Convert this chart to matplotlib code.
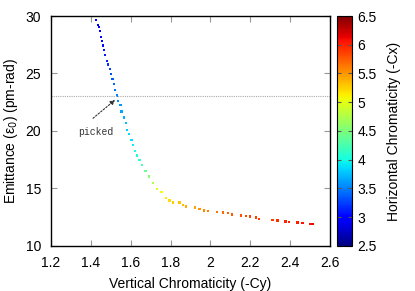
import matplotlib
matplotlib.use("Agg")
import matplotlib.pyplot as plt
from matplotlib.ticker import FuncFormatter
import numpy as np

plt.rcParams['font.family'] = ['Liberation Sans', 'DejaVu Sans']

# Vertical chromaticity (-Cy)
cy = [1.427, 1.435, 1.44, 1.445, 1.452, 1.457, 1.462, 1.465, 1.472, 1.48,
      1.487, 1.495, 1.502, 1.509, 1.515, 1.522, 1.53, 1.535,
      1.548, 1.553, 1.565, 1.575, 1.582, 1.592, 1.603, 1.612, 1.622, 1.632,
      1.645, 1.658, 1.675, 1.692, 1.712, 1.732, 1.754, 1.778,
      1.795, 1.812, 1.845, 1.862, 1.878, 1.923, 1.945, 1.967, 1.987,
      2.033, 2.062, 2.087, 2.107, 2.153, 2.178,
      2.2, 2.228, 2.245, 2.312, 2.337, 2.378, 2.395, 2.437, 2.462, 2.5, 2.512]
# Emittance (pm-rad)
emit = [29.65, 29.24, 29.02, 28.72, 28.15, 27.8, 27.42, 27.04, 26.63, 26.11,
        25.77, 25.39, 24.96, 24.52, 24.09, 23.57, 23.07, 22.58,
        22.26, 21.68, 21.16, 20.67, 20.09, 19.71, 19.22, 18.78, 18.26, 17.85,
        17.48, 17.04, 16.52, 16.03, 15.45, 14.96, 14.67, 14.15,
        13.94, 13.77, 13.77, 13.54, 13.42, 13.33, 13.19, 13.07, 13.02,
        12.93, 12.9, 12.84, 12.72, 12.63, 12.61,
        12.55, 12.46, 12.32, 12.26, 12.2, 12.11, 12.09, 12.03, 11.97, 11.91, 11.88]
# Horizontal chromaticity (-Cx), colour of each point
cx = [2.9, 2.92, 2.95, 2.97, 3.0, 3.02, 3.05, 3.08, 3.1, 3.15,
      3.2, 3.25, 3.3, 3.35, 3.4, 3.45, 3.5, 3.55,
      3.6, 3.65, 3.7, 3.75, 3.8, 3.85, 3.9, 3.95, 4.0, 4.05,
      4.15, 4.25, 4.4, 4.55, 4.75, 4.95, 5.05, 5.15,
      5.2, 5.25, 5.3, 5.35, 5.4, 5.45, 5.5, 5.55, 5.6,
      5.65, 5.7, 5.72, 5.75, 5.8, 5.82,
      5.85, 5.87, 5.9, 5.92, 5.95, 5.97, 6.0, 6.02, 6.05, 6.07, 6.1]

picked_cy = 1.532
picked_emit = 23.0

fig = plt.figure(figsize=(4.15, 2.91), dpi=100)
ax = fig.add_axes([0.123, 0.155, 0.672, 0.79])
cax = fig.add_axes([0.812, 0.155, 0.036, 0.79])

sc = ax.scatter(cy, emit, c=cx, cmap='jet', vmin=2.5, vmax=6.5,
                marker='s', s=3, linewidths=0)

# reference line + annotation of the chosen point
ax.axhline(picked_emit, color='#aaaaaa', linestyle=(0, (1, 1)), linewidth=0.8)
ax.annotate('', xy=(picked_cy, picked_emit - 0.15), xytext=(1.40, 20.95),
            arrowprops=dict(arrowstyle='-|>', linestyle=(0, (1.5, 1.5)),
                            color='#333333', lw=0.8, mutation_scale=7))
ax.text(1.425, 19.9, 'picked', family='Liberation Mono', fontsize=7,
        ha='center', va='center', color='#333333')

ax.set_xlim(1.2, 2.6)
ax.set_ylim(10, 30)
ax.set_xticks(np.arange(1.2, 2.61, 0.2))
ax.set_yticks([10, 15, 20, 25, 30])
fmt = FuncFormatter(lambda v, p: f'{v:g}')
ax.xaxis.set_major_formatter(fmt)
ax.set_xlabel('Vertical Chromaticity (-Cy)', fontsize=10)
ax.set_ylabel('Emittance (ε$_0$) (pm-rad)', fontsize=10)
ax.xaxis.set_label_coords(0.5, -0.135)
ax.yaxis.set_label_coords(-0.112, 0.5)
ax.tick_params(direction='in', length=4, width=0.8, color='#999999',
               top=True, right=True, labelsize=10, pad=7)
for s in ax.spines.values():
    s.set_linewidth(1.0)

cb = fig.colorbar(sc, cax=cax)
cb.set_ticks(np.arange(2.5, 6.51, 0.5))
cb.ax.yaxis.set_major_formatter(fmt)
cb.ax.tick_params(direction='in', length=3, width=0.8, color='#555555',
                  left=True, right=True, labelsize=10, pad=4)
cb.outline.set_linewidth(0.8)
cb.set_label('Horizontal Chromaticity (-Cx)', fontsize=10, labelpad=7)

fig.savefig('out.png', dpi=100)
